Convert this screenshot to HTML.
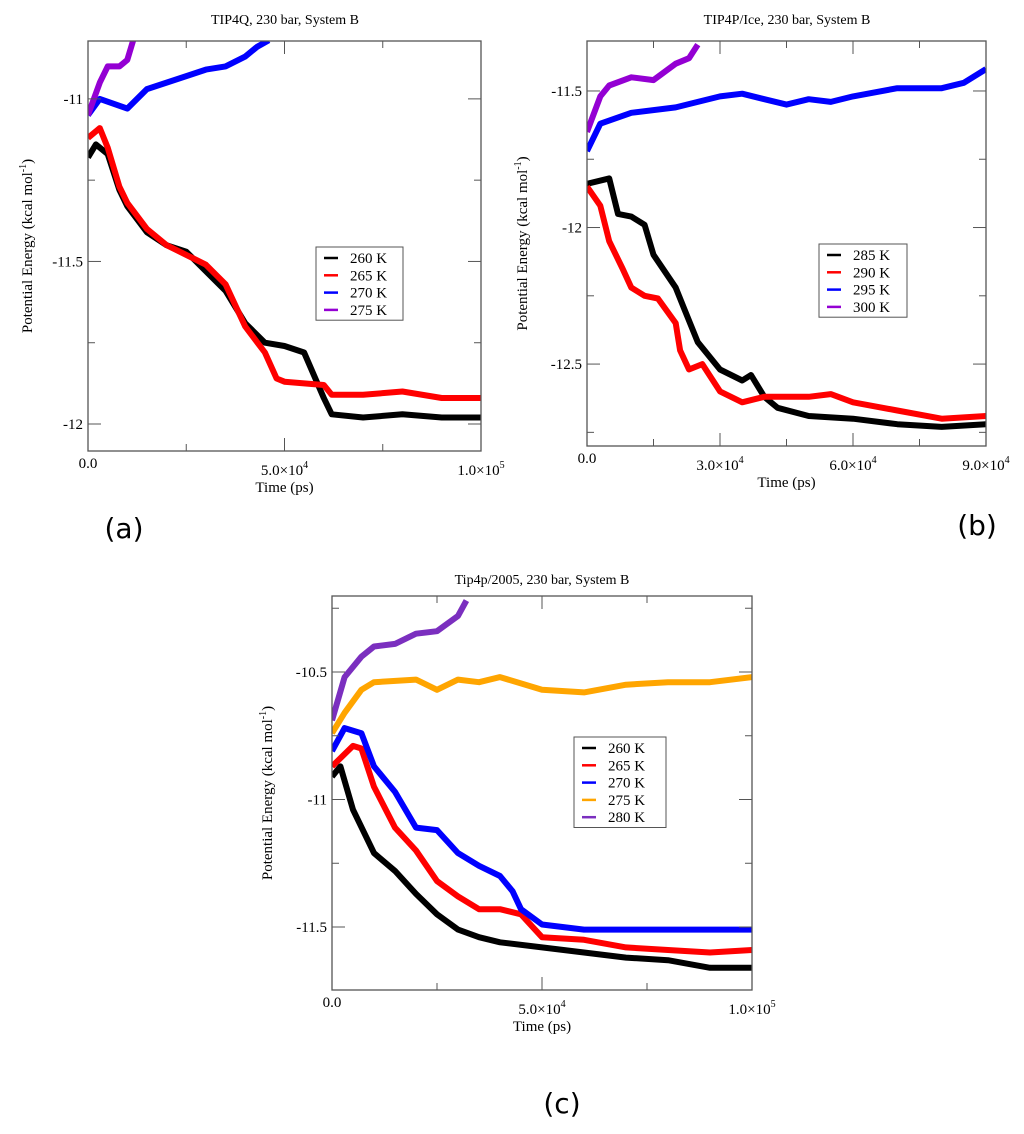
<!DOCTYPE html>
<html><head><meta charset="utf-8">
<style>
html,body{margin:0;padding:0;background:#fff;}
svg text{font-family:"Liberation Serif",serif;}
</style></head>
<body>
<svg id="fig" width="1024" height="1129" viewBox="0 0 1024 1129" xmlns="http://www.w3.org/2000/svg">
<rect width="1024" height="1129" fill="#fff"/>
<text x="285" y="24" font-size="14" text-anchor="middle">TIP4Q, 230 bar, System B</text>
<text x="787" y="24" font-size="14" text-anchor="middle">TIP4P/Ice, 230 bar, System B</text>
<text x="542" y="584" font-size="14" text-anchor="middle">Tip4p/2005, 230 bar, System B</text>
<text x="124" y="538" font-size="28" text-anchor="middle" style="font-family:'DejaVu Sans',sans-serif">(a)</text>
<text x="977" y="535" font-size="28" text-anchor="middle" style="font-family:'DejaVu Sans',sans-serif">(b)</text>
<text x="562" y="1113" font-size="28" text-anchor="middle" style="font-family:'DejaVu Sans',sans-serif">(c)</text>
</svg>
<script>
// Panel (a): x in units of 1e4 ps
const aX260=[0,0.2,0.5,0.8,1,1.5,2,2.5,3,3.5,4,4.5,5,5.5,6,6.2,7,8,9,10];
const aY260=[-11.18,-11.14,-11.17,-11.28,-11.33,-11.41,-11.45,-11.47,-11.53,-11.59,-11.69,-11.75,-11.76,-11.78,-11.92,-11.97,-11.98,-11.97,-11.98,-11.98];
const aX265=[0,0.3,0.5,0.8,1,1.5,2,2.5,3,3.5,4,4.5,4.8,5,6,6.2,7,8,9,10];
const aY265=[-11.12,-11.09,-11.15,-11.27,-11.32,-11.40,-11.45,-11.48,-11.51,-11.57,-11.70,-11.78,-11.86,-11.87,-11.88,-11.91,-11.91,-11.90,-11.92,-11.92];
const aX270=[0,0.3,1,1.5,2,2.5,3,3.5,4,4.3,4.6];
const aY270=[-11.05,-11.0,-11.03,-10.97,-10.95,-10.93,-10.91,-10.90,-10.87,-10.84,-10.82];
const aX275=[0,0.3,0.5,0.8,1.0,1.15];
const aY275=[-11.05,-10.95,-10.90,-10.90,-10.88,-10.82];
const aLegend=['260 K','265 K','270 K','275 K'];
// Panel (b)
const bX285=[0,0.5,0.7,1,1.3,1.5,2,2.2,2.5,3,3.5,3.7,4,4.3,5,6,7,8,9];
const bY285=[-11.84,-11.82,-11.95,-11.96,-11.99,-12.10,-12.22,-12.30,-12.42,-12.52,-12.56,-12.54,-12.62,-12.66,-12.69,-12.70,-12.72,-12.73,-12.72];
const bX290=[0,0.3,0.5,0.8,1,1.3,1.6,2,2.1,2.3,2.6,3,3.5,4,5,5.5,6,7,8,9];
const bY290=[-11.85,-11.92,-12.05,-12.15,-12.22,-12.25,-12.26,-12.35,-12.45,-12.52,-12.50,-12.60,-12.64,-12.62,-12.62,-12.61,-12.64,-12.67,-12.70,-12.69];
const bX295=[0,0.3,1,2,2.5,3,3.5,4,4.5,5,5.5,6,7,8,8.5,9];
const bY295=[-11.72,-11.62,-11.58,-11.56,-11.54,-11.52,-11.51,-11.53,-11.55,-11.53,-11.54,-11.52,-11.49,-11.49,-11.47,-11.42];
const bX300=[0,0.3,0.5,1,1.5,2,2.3,2.5];
const bY300=[-11.65,-11.52,-11.48,-11.45,-11.46,-11.40,-11.38,-11.33];
const bLegend=['285 K','290 K','295 K','300 K'];
// Panel (c)
const cX260=[0,0.2,0.5,1,1.5,2,2.5,3,3.5,4,5,6,7,8,9,10];
const cY260=[-10.91,-10.87,-11.04,-11.21,-11.28,-11.37,-11.45,-11.51,-11.54,-11.56,-11.58,-11.60,-11.62,-11.63,-11.66,-11.66];
const cX265=[0,0.5,0.7,1,1.5,2,2.5,3,3.5,4,4.5,5,6,7,8,9,10];
const cY265=[-10.87,-10.79,-10.80,-10.95,-11.11,-11.20,-11.32,-11.38,-11.43,-11.43,-11.45,-11.54,-11.55,-11.58,-11.59,-11.60,-11.59];
const cX270=[0,0.3,0.7,1,1.5,2,2.5,3,3.5,4,4.3,4.5,5,6,7,8,9,10];
const cY270=[-10.81,-10.72,-10.74,-10.87,-10.97,-11.11,-11.12,-11.21,-11.26,-11.30,-11.36,-11.43,-11.49,-11.51,-11.51,-11.51,-11.51,-11.51];
const cX275=[0,0.3,0.7,1,2,2.5,3,3.5,4,5,6,7,8,9,10];
const cY275=[-10.74,-10.66,-10.57,-10.54,-10.53,-10.57,-10.53,-10.54,-10.52,-10.57,-10.58,-10.55,-10.54,-10.54,-10.52];
const cX280=[0,0.3,0.7,1,1.5,2,2.5,3,3.2];
const cY280=[-10.69,-10.52,-10.44,-10.40,-10.39,-10.35,-10.34,-10.28,-10.22];
const cLegend=['260 K','265 K','270 K','275 K','280 K'];

const NS='http://www.w3.org/2000/svg';
const svg=document.getElementById('fig');
function mk(tag,attrs,parent){const e=document.createElementNS(NS,tag);for(const k in attrs)e.setAttribute(k,attrs[k]);(parent||svg).appendChild(e);return e;}

function panel(p){
  const g=mk('g',{});
  
  
  const sx=v=>p.x0+(v-p.xmin)/(p.xmax-p.xmin)*(p.x1-p.x0);
  const sy=v=>p.y1-(v-p.ymin)/(p.ymax-p.ymin)*(p.y1-p.y0);
  const clip=mk('clipPath',{id:'clip'+p.id},g);
  mk('rect',{x:p.x0,y:p.y0,width:p.x1-p.x0,height:p.y1-p.y0},clip);
  const sg=mk('g',{'clip-path':'url(#clip'+p.id+')'},g);
  p.series.forEach((s,i)=>{
    const d=s.x.map((xv,j)=>(j?'L':'M')+sx(xv).toFixed(1)+','+sy(s.y[j]).toFixed(1)).join('');
    const path=mk('path',{d:d,fill:'none',stroke:s.c,'stroke-width':6,'stroke-linejoin':'round'},sg);
    
    
  });
  const fr=mk('rect',{x:p.x0,y:p.y0,width:p.x1-p.x0,height:p.y1-p.y0,fill:'none',stroke:'#555','stroke-width':1.3},g);
  
  
  p.yt.forEach(v=>{const y=sy(v);
    mk('line',{x1:p.x0,x2:p.x0+13,y1:y,y2:y,stroke:'#555'},g);
    mk('line',{x1:p.x1,x2:p.x1-13,y1:y,y2:y,stroke:'#555'},g);
    const t=mk('text',{x:p.x0-5,y:y+5,'font-size':15,'text-anchor':'end'},g);t.textContent=String(v);
    
    
  });
  p.ym.forEach(v=>{const y=sy(v);
    mk('line',{x1:p.x0,x2:p.x0+7,y1:y,y2:y,stroke:'#555'},g);
    mk('line',{x1:p.x1,x2:p.x1-7,y1:y,y2:y,stroke:'#555'},g);
  });
  p.xt.forEach((v,i)=>{const x=sx(v);
    mk('line',{x1:x,x2:x,y1:p.y1,y2:p.y1-13,stroke:'#555'},g);
    mk('line',{x1:x,x2:x,y1:p.y0,y2:p.y0+13,stroke:'#555'},g);
    const t=mk('text',{x:x,y:p.y1+(i==0?17:24),'font-size':15,'text-anchor':'middle'},g);
    
    
    if(i==0)t.textContent='0.0';
    else{t.textContent=p.xtl[i]+'\u00d710';const s=mk('tspan',{dy:-7,'font-size':10},t);s.textContent=p.xexp[i];}
  });
  p.xm.forEach(v=>{const x=sx(v);
    mk('line',{x1:x,x2:x,y1:p.y1,y2:p.y1-7,stroke:'#555'},g);
    mk('line',{x1:x,x2:x,y1:p.y0,y2:p.y0+7,stroke:'#555'},g);
  });
  const xl=mk('text',{x:(p.x0+p.x1)/2,y:p.y1+41,'font-size':15,'text-anchor':'middle'},g);
  xl.textContent='Time (ps)';
  
  
  const cy=(p.y0+p.y1)/2;
  const yl=mk('text',{x:p.ylx,y:cy,'font-size':15,'text-anchor':'middle',transform:'rotate(-90 '+p.ylx+' '+cy+')'},g);
  yl.textContent='Potential Energy (kcal mol';
  const sup=mk('tspan',{dy:-6,'font-size':10},yl);sup.textContent='-1';
  const cl=mk('tspan',{dy:6},yl);cl.textContent=')';
  
  
  const lg=mk('g',{},g);
  
  
  mk('rect',{x:p.lx,y:p.ly,width:p.lw,height:p.legend.length*17.3+4,fill:'#fff',stroke:'#555','stroke-width':1},lg);
  p.legend.forEach((l,i)=>{const y=p.ly+11+i*17.3;
    const e=mk('g',{},lg);
    
    
    mk('line',{x1:p.lx+8,x2:p.lx+22,y1:y,y2:y,stroke:p.series[i].c,'stroke-width':2.5},e);
    const t=mk('text',{x:p.lx+34,y:y+5,'font-size':15},e);t.textContent=l;
  });
}
panel({id:'a',x0:88,x1:481,y0:41,y1:451,xmin:0,xmax:10,ymin:-12.083,ymax:-10.822,
  yt:[-11,-11.5,-12],ym:[-11.25,-11.75],xt:[0,5,10],xtl:['0.0','5.0','1.0'],xexp:['','4','5'],xm:[2.5,7.5],
  ylx:32,lx:316,ly:247,lw:87,legend:aLegend,
  series:[{x:aX260,y:aY260,c:'#000'},{x:aX265,y:aY265,c:'#ff0000'},{x:aX270,y:aY270,c:'#0000ff'},{x:aX275,y:aY275,c:'#9400d3'}]});
panel({id:'b',x0:587,x1:986,y0:41,y1:446,xmin:0,xmax:9,ymin:-12.80,ymax:-11.317,
  yt:[-11.5,-12,-12.5],ym:[-11.75,-12.25,-12.75],xt:[0,3,6,9],xtl:['0.0','3.0','6.0','9.0'],xexp:['','4','4','4'],xm:[1.5,4.5,7.5],
  ylx:527,lx:819,ly:244,lw:88,legend:bLegend,
  series:[{x:bX285,y:bY285,c:'#000'},{x:bX290,y:bY290,c:'#ff0000'},{x:bX295,y:bY295,c:'#0000ff'},{x:bX300,y:bY300,c:'#9400d3'}]});
panel({id:'c',x0:332,x1:752,y0:596,y1:990,xmin:0,xmax:10,ymin:-11.747,ymax:-10.202,
  yt:[-10.5,-11,-11.5],ym:[-10.25,-10.75,-11.25],xt:[0,5,10],xtl:['0.0','5.0','1.0'],xexp:['','4','5'],xm:[2.5,7.5],
  ylx:272,lx:574,ly:737,lw:92,legend:cLegend,
  series:[{x:cX260,y:cY260,c:'#000'},{x:cX265,y:cY265,c:'#ff0000'},{x:cX270,y:cY270,c:'#0000ff'},{x:cX275,y:cY275,c:'#ffa500'},{x:cX280,y:cY280,c:'#7b2fbf'}]});
</script>
</body></html>
